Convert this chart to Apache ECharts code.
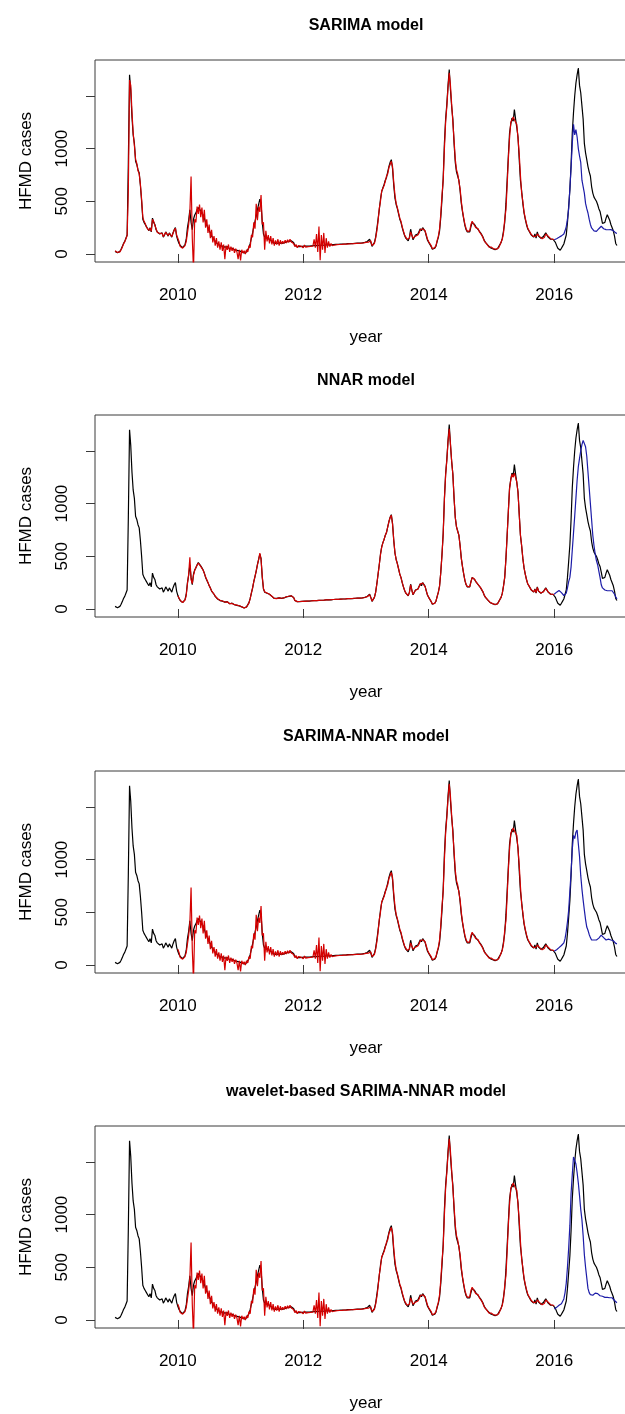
<!DOCTYPE html>
<html>
<head>
<meta charset="utf-8">
<script src="https://cdn.jsdelivr.net/npm/echarts@6/dist/echarts.min.js"></script>
<style>
  html, body { margin: 0; padding: 0; background: #fff; overflow: hidden; }
  /* the plot boxes run past the right edge of the window, as in the original figure */
  #main { width: 650px; height: 1414px; }
</style>
</head>
<body>
<div id="main"></div>
<script>
// weekly HFMD cases, 52 points a year starting 2009.0 (last value = 2017.0)
var observed = [
  25,20,12,8,25,45,70,100,120,150,180,870,1700,1550,1300,1130,1050,880,850,800,770,650,500,330,300,280,260,240,220,250,210,340,300,280,230,210,225,190,175,200,160,180,210,190,170,200,180,160,200,230,250,170,
  130,100,80,70,60,65,90,140,250,320,420,300,230,330,370,390,420,440,430,410,390,370,340,300,290,250,220,200,170,160,140,120,110,95,90,80,85,75,70,65,60,70,55,50,45,55,45,40,45,35,40,30,
  25,20,15,10,8,20,35,60,100,150,200,260,310,360,420,470,520,480,300,190,160,170,150,145,140,130,120,110,100,95,100,110,105,115,100,110,105,120,115,125,120,130,125,120,110,80,70,70,72,70,71,72,
  72,74,73,75,76,74,77,78,77,79,80,79,81,82,80,83,84,83,85,86,85,87,88,86,89,90,89,91,92,91,93,94,92,95,96,95,97,98,97,99,100,99,101,102,101,103,104,103,105,106,107,110,
  116,118,115,140,110,72,85,110,160,240,330,420,520,590,630,660,700,725,780,830,870,895,810,650,530,470,430,380,330,300,250,210,175,150,135,125,160,235,180,135,150,180,165,190,205,240,220,250,240,215,170,130,
  110,90,70,45,40,55,75,120,160,220,350,520,720,1050,1280,1420,1600,1750,1560,1400,1280,1050,870,780,740,700,600,480,400,330,270,230,210,200,210,260,300,310,280,260,270,230,220,200,190,160,130,110,100,85,70,60,
  57,50,45,42,41,50,70,90,110,150,220,300,480,700,930,1150,1230,1290,1260,1370,1280,1200,1110,900,700,600,480,390,330,280,240,220,200,180,170,160,190,150,210,170,160,150,140,165,150,200,190,160,150,140,135,140,
  135,110,80,55,38,35,55,75,95,110,180,300,450,610,850,1150,1340,1500,1620,1700,1765,1600,1530,1540,1280,1050,960,895,830,780,740,640,578,540,520,500,470,430,404,350,290,275,300,340,373,360,320,280,263,220,170,100,80
];

// SARIMA in-sample fit for 2009 (panel 1 only)
var sarimaFit2009 = [
  30,22,15,10,20,40,65,95,115,145,175,600,1650,1600,1350,1150,1030,900,860,790,760,660,520,350,310,290,255,245,225,245,215,330,310,270,240,205,220,195,180,195,165,175,205,195,175,195,185,165,195,225,245,180
];

// SARIMA-type fitted values 2010.0 - 2016.0 (red line, panels 1, 3, 4)
var hybridFit = [
  150,120,70,60,55,50,80,120,200,280,400,735,150,-150,330,300,450,380,470,350,440,300,420,250,330,200,280,150,230,110,170,80,150,60,120,40,110,30,90,-50,80,40,90,20,70,30,60,10,50,20,-50,40,
  -60,40,10,30,0,40,20,80,60,180,160,300,240,476,320,450,400,560,280,300,40,220,120,180,100,170,90,150,80,130,90,140,80,130,95,120,100,130,105,135,110,140,115,120,100,70,90,60,80,65,75,70,
  60,85,65,80,70,85,72,90,75,140,60,190,20,260,-60,180,40,200,10,150,60,120,70,100,80,95,85,92,88,96,90,98,91,97,93,100,94,99,96,102,97,103,99,105,100,106,101,107,103,108,106,112,
  110,120,112,130,125,80,90,100,150,220,310,430,500,600,620,650,690,740,760,820,850,880,830,680,560,480,440,390,340,310,260,220,180,160,140,130,150,210,200,150,140,170,175,180,200,230,225,240,245,220,180,140,
  115,100,80,50,45,60,80,130,170,240,380,560,700,1000,1250,1400,1580,1720,1600,1420,1250,1080,900,800,760,690,620,500,410,340,280,240,215,205,220,280,310,290,300,250,260,240,210,205,180,170,125,115,95,90,65,62,
  65,55,48,44,45,48,60,85,100,140,200,330,420,650,900,1100,1250,1270,1300,1310,1250,1230,1100,950,750,580,500,400,340,290,250,225,205,185,175,165,180,170,190,185,165,155,145,160,160,190,185,170,155,145,138,140,
  135
];

// NNAR fitted values 2010.0 - 2016.0
var nnarFit = [
  125,105,82,68,62,63,85,130,240,330,490,280,240,320,365,395,415,435,432,405,392,368,338,305,288,252,222,198,172,158,142,122,108,97,88,82,84,76,70,66,62,68,56,50,46,53,46,41,44,36,39,31,
  26,21,16,11,9,19,36,58,98,152,198,262,308,362,418,468,530,470,310,195,162,168,152,144,139,131,121,111,101,96,99,109,106,113,102,108,106,118,116,123,121,128,126,119,108,82,71,70,71,71,71,72,
  72,73,74,75,75,76,77,77,78,79,79,80,81,82,82,83,84,84,85,86,86,87,88,88,89,90,90,91,92,92,93,94,94,95,96,96,97,98,98,99,100,100,101,102,102,103,104,104,105,106,107,109,
  115,117,116,135,108,75,88,112,158,238,328,418,515,585,628,662,698,728,778,828,868,890,805,655,535,468,428,382,332,298,252,212,178,152,136,127,158,230,178,137,148,178,168,188,203,236,222,246,238,213,172,132,
  108,92,72,47,42,54,76,118,162,218,348,515,715,1040,1270,1410,1590,1710,1570,1405,1275,1055,868,782,738,698,602,482,402,332,272,232,212,202,212,258,298,305,282,262,268,232,222,202,188,162,132,112,101,86,71,61,
  58,51,46,43,42,49,69,91,111,148,218,302,478,698,925,1140,1225,1280,1250,1290,1275,1205,1105,905,705,602,482,392,332,282,242,222,202,182,172,162,185,155,205,172,162,152,142,162,152,195,188,162,152,142,137,140,
  135
];

// forecasts 2016.0 - 2017.0 (blue lines)
var sarimaFc = [135,140,145,150,158,165,172,180,190,220,260,330,430,620,820,1050,1230,1130,1180,1110,1000,930,870,700,640,578,480,430,389,330,280,247,230,220,215,215,220,240,255,263,250,240,235,231,225,230,235,231,225,220,210,200,195];
var nnarFc = [140,150,160,170,175,170,155,140,128,126,150,200,260,300,400,560,720,880,1050,1220,1350,1430,1500,1560,1600,1590,1540,1450,1300,1150,1000,850,700,600,520,460,420,360,300,230,200,190,180,175,173,172,173,172,173,160,140,115,94];
var hybridFc = [130,135,145,155,165,175,185,200,210,250,320,410,520,700,880,1100,1230,1200,1260,1280,1150,1030,850,720,616,520,430,360,330,290,260,237,235,237,240,237,240,255,270,284,275,260,245,237,240,245,240,237,237,230,215,205,200];
var waveletFc = [105,110,120,130,140,150,155,164,200,260,350,500,680,900,1200,1380,1547,1516,1480,1400,1300,1180,1050,950,800,620,500,400,300,260,240,227,235,245,255,258,250,240,230,227,225,220,215,211,215,215,211,210,211,200,185,170,164];

var panelTitles = ['SARIMA model', 'NNAR model', 'SARIMA-NNAR model', 'wavelet-based SARIMA-NNAR model'];
var yearTicks = [2010, 2012, 2014, 2016];
var caseTicks = [0, 500, 1000, 1500];
var caseLabels = [0, 500, 1000];

var panelFits = [
  { start: 2009, values: sarimaFit2009.concat(hybridFit) },
  { start: 2010, values: nnarFit },
  { start: 2010, values: hybridFit },
  { start: 2010, values: hybridFit }
];
var panelFc = [sarimaFc, nnarFc, hybridFc, waveletFc];
var panelTops = [60, 415, 771, 1126];

var font = '"Liberation Sans", Arial, sans-serif';
var boxColor = '#3a3a3a';

function toPairs(start, vals) {
  return vals.map(function (v, i) { return [start + i / 52, v]; });
}
function plain(v) { return String(v); }

var titles = [], grids = [], xAxes = [], yAxes = [], series = [];

panelTops.forEach(function (top, i) {
  titles.push({
    text: panelTitles[i],
    left: 366, top: top - 42, textAlign: 'center', padding: 0,
    textStyle: { fontSize: 16, fontWeight: 'bold', color: '#000', fontFamily: font }
  });
  grids.push({
    left: 95, top: top, width: 542, height: 202,
    show: true, borderColor: boxColor, borderWidth: 1, backgroundColor: 'transparent'
  });
  xAxes.push({
    type: 'value', gridIndex: i, min: 2008.68, max: 2017.32,
    name: 'year', nameLocation: 'middle', nameGap: 67,
    nameTextStyle: { fontSize: 17, color: '#000', fontFamily: font },
    axisLine: { show: false },
    splitLine: { show: false },
    axisTick: { length: 9, customValues: yearTicks, lineStyle: { color: boxColor } },
    axisLabel: { customValues: yearTicks, formatter: plain, margin: 25, fontSize: 17, color: '#000', fontFamily: font }
  });
  yAxes.push({
    type: 'value', gridIndex: i, min: -76, max: 1841,
    name: 'HFMD cases', nameLocation: 'middle', nameGap: 60,
    nameTextStyle: { fontSize: 17, color: '#000', fontFamily: font },
    axisLine: { show: false },
    splitLine: { show: false },
    axisTick: { length: 9, customValues: caseTicks, lineStyle: { color: boxColor } },
    axisLabel: { customValues: caseLabels, formatter: plain, rotate: 90, margin: 24, fontSize: 17, color: '#000', fontFamily: font }
  });
  series.push({
    type: 'line', xAxisIndex: i, yAxisIndex: i, showSymbol: false, silent: true,
    lineStyle: { color: '#000', width: 1.2 },
    data: toPairs(2009, observed)
  });
  series.push({
    type: 'line', xAxisIndex: i, yAxisIndex: i, showSymbol: false, silent: true,
    lineStyle: { color: '#d40000', width: 1.2 },
    data: toPairs(panelFits[i].start, panelFits[i].values)
  });
  series.push({
    type: 'line', xAxisIndex: i, yAxisIndex: i, showSymbol: false, silent: true,
    lineStyle: { color: '#1c1ca8', width: 1.2 },
    data: toPairs(2016, panelFc[i])
  });
});

var chart = echarts.init(document.getElementById('main'));
chart.setOption({
  animation: false,
  backgroundColor: '#fff',
  title: titles,
  grid: grids,
  xAxis: xAxes,
  yAxis: yAxes,
  series: series
});
</script>
</body>
</html>
